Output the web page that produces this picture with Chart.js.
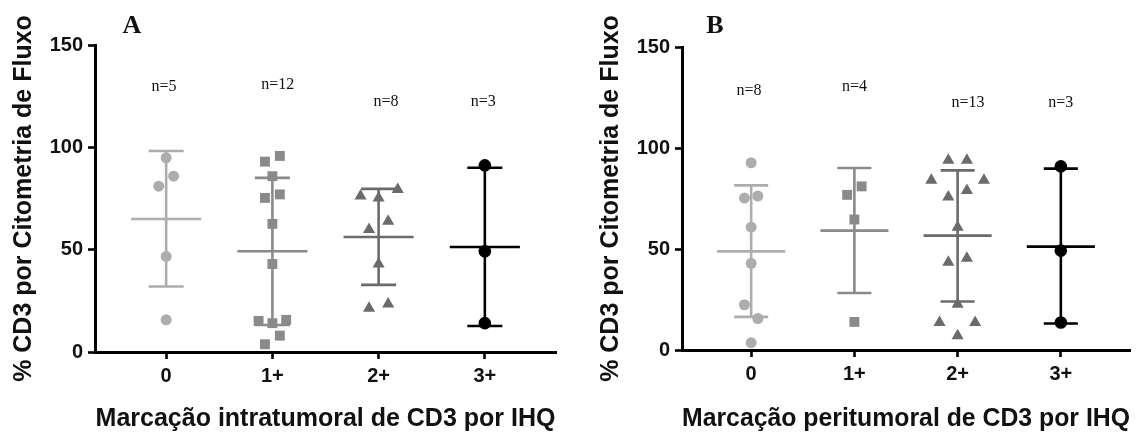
<!DOCTYPE html>
<html>
<head>
<meta charset="utf-8">
<script src="https://cdn.jsdelivr.net/npm/chart.js@4.4.1/dist/chart.umd.min.js"></script>
<style>
  body { margin: 0; background: #fff; }
  #wrap { position: relative; width: 1137px; height: 434px; background: #fff; }
  canvas { position: absolute; top: 0; }
</style>
</head>
<body>
<div id="wrap">
  <canvas id="chart-a" width="570" height="434" style="left:0"></canvas>
  <canvas id="chart-b" width="567" height="434" style="left:570px"></canvas>
</div>
<script>
/* CD3 por citometria vs marcação IHQ — two scatter panels with mean ± SD */

const categories = ['0', '1+', '2+', '3+'];
const yTicks = [0, 50, 100, 150];

// Panel A — intratumoral
const aVals0 = [94.9, 85.9, 81.0, 46.7, 15.7];
const aJit0  = [0, 0.07, -0.07, 0, 0];
const aVals1 = [93.0, 95.8, 85.9, 75.3, 77.0, 62.6, 43.0, 15.2, 14.1, 15.7, 8.0, 3.8];
const aJit1  = [-0.07, 0.07, 0, -0.07, 0.07, 0, 0, -0.13, 0, 0.13, 0.07, -0.07];
const aVals2 = [76.2, 75.3, 79.4, 59.8, 63.9, 43.0, 21.4, 23.4];
const aJit2  = [-0.17, 0, 0.18, -0.09, 0.09, 0, -0.09, 0.09];
const aVals3 = [91.2, 49.2, 14.1];
const aJit3  = [0, 0, 0];
const aMean  = [65.0, 49.2, 56.2, 51.3];
const aSdHi  = [98.2, 85.1, 79.7, 90.0];
const aSdLo  = [32.0, 13.2, 32.8, 12.7];
const aN     = ['n=5', 'n=12', 'n=8', 'n=3'];
const aNY    = [129.4, 130.4, 122.3, 122.3];
const aNDx   = [-0.02, 0.05, 0.07, -0.015];

// Panel B — peritumoral
const bVals0 = [92.7, 75.2, 76.2, 60.8, 42.9, 22.4, 15.6, 3.6];
const bJit0  = [0, -0.065, 0.065, 0, 0, -0.065, 0.065, 0];
const bVals1 = [76.8, 81.0, 64.6, 13.9];
const bJit1  = [-0.07, 0.07, 0, 0];
const bVals2 = [93.9, 93.9, 84.0, 84.0, 75.7, 79.0, 60.8, 43.4, 45.4, 22.7, 13.6, 13.6, 7.0];
const bJit2  = [-0.09, 0.09, -0.255, 0.255, -0.09, 0.09, 0, -0.09, 0.09, 0, -0.175, 0.17, 0];
const bVals3 = [90.9, 49.2, 13.6];
const bJit3  = [0, 0, 0];
const bMean  = [48.8, 59.1, 56.6, 51.2];
const bSdHi  = [81.5, 90.1, 88.9, 89.8];
const bSdLo  = [16.4, 28.2, 24.0, 13.1];
const bN     = ['n=8', 'n=4', 'n=13', 'n=3'];
const bNY    = [128.5, 130.2, 122.3, 122.3];
const bNDx   = [-0.02, 0, 0.1, 0];

const colors = ['#adadad', '#8a8a8a', '#6b6b6b', '#000000'];
const styles = ['circle', 'rect', 'triangle', 'circle'];
const radii  = [5.5, 7, 7, 6.3];
const CAP = 0.165, MEAN_W = 0.33;
const SANS = '"Liberation Sans", Arial, sans-serif';

// n=.. labels and panel letter, placed through the chart scales
const annotate = {
  id: 'annotate',
  afterDatasetsDraw(chart, args, opts) {
    const { ctx, scales: { x, y } } = chart;
    ctx.save();
    ctx.fillStyle = '#111';
    ctx.textAlign = 'center';
    ctx.textBaseline = 'middle';
    ctx.font = '16px "Liberation Serif", "Times New Roman", serif';
    opts.labels.forEach((t, i) => {
      ctx.fillText(t, x.getPixelForValue(i + opts.dx[i]), y.getPixelForValue(opts.ly[i]));
    });
    ctx.font = 'bold 26px "Liberation Serif", "Times New Roman", serif';
    ctx.textBaseline = 'alphabetic';
    ctx.fillText(opts.letter, opts.letterX, 33);
    ctx.restore();
  }
};

function pointSet(vals, jit, i) {
  return {
    data: vals.map((v, k) => ({ x: i + jit[k], y: v })),
    pointStyle: styles[i],
    pointRadius: radii[i],
    backgroundColor: colors[i],
    borderColor: colors[i],
    borderWidth: 0,
    showLine: false,
    order: 1
  };
}

function errorSets(mean, lo, hi) {
  const sets = [];
  mean.forEach((m, i) => {
    const seg = pts => ({
      data: pts, showLine: true, borderColor: colors[i], borderWidth: 2.6,
      pointRadius: 0, fill: false, order: 2
    });
    sets.push(seg([{ x: i, y: lo[i] }, { x: i, y: hi[i] }]));
    sets.push(seg([{ x: i - CAP, y: hi[i] }, { x: i + CAP, y: hi[i] }]));
    sets.push(seg([{ x: i - CAP, y: lo[i] }, { x: i + CAP, y: lo[i] }]));
    sets.push(seg([{ x: i - MEAN_W, y: m }, { x: i + MEAN_W, y: m }]));
  });
  return sets;
}

function makePanel(id, groups, mean, lo, hi, labels, ly, dx, cfg) {
  const datasets = groups.map((g, i) => pointSet(g[0], g[1], i)).concat(errorSets(mean, lo, hi));
  return new Chart(document.getElementById(id), {
    type: 'scatter',
    data: { datasets },
    plugins: [annotate],
    options: {
      responsive: false,
      animation: false,
      devicePixelRatio: 1,
      layout: { padding: { top: cfg.top, right: cfg.right, left: 0, bottom: 0 } },
      plugins: {
        legend: { display: false },
        tooltip: { enabled: false },
        annotate: { labels, ly, dx, letter: cfg.letter, letterX: cfg.letterX }
      },
      scales: {
        x: {
          type: 'linear', min: -0.67, max: 3.67,
          afterBuildTicks: s => { s.ticks = categories.map((c, i) => ({ value: i })); },
          afterFit: s => { s.height = cfg.xh; },
          ticks: { callback: v => categories[v], color: '#111', padding: 5,
                   font: { family: SANS, size: 20, weight: 'bold' } },
          grid: { drawOnChartArea: false, tickLength: 7, tickWidth: 2.6, tickColor: '#000' },
          border: { color: '#000', width: 3 },
          title: { display: true, text: cfg.xTitle, color: '#111', padding: { top: 0, bottom: 0 },
                   font: { family: SANS, size: 25, weight: 'bold' } }
        },
        y: {
          min: 0, max: 150,
          afterBuildTicks: s => { s.ticks = yTicks.map(v => ({ value: v })); },
          afterFit: s => { s.width = cfg.yw; },
          ticks: { color: '#111', padding: 5, font: { family: SANS, size: 20, weight: 'bold' } },
          grid: { drawOnChartArea: false, tickLength: 7, tickWidth: 2.6, tickColor: '#000' },
          border: { color: '#000', width: 3 },
          title: { display: true, text: '% CD3 por Citometria de Fluxo', color: '#111',
                   padding: { top: cfg.titlePad, bottom: 0 },
                   font: { family: SANS, size: 25, weight: 'bold' } }
        }
      }
    }
  });
}

makePanel('chart-a',
  [[aVals0, aJit0], [aVals1, aJit1], [aVals2, aJit2], [aVals3, aJit3]],
  aMean, aSdLo, aSdHi, aN, aNY, aNDx,
  { top: 45, right: 14, xh: 82, yw: 95, titlePad: 9, letter: 'A', letterX: 132,
    xTitle: 'Marcação intratumoral de CD3 por IHQ' });

makePanel('chart-b',
  [[bVals0, bJit0], [bVals1, bJit1], [bVals2, bJit2], [bVals3, bJit3]],
  bMean, bSdLo, bSdHi, bN, bNY, bNDx,
  { top: 47, right: 0, xh: 84, yw: 112, titlePad: 26, letter: 'B', letterX: 145,
    xTitle: 'Marcação peritumoral de CD3 por IHQ' });
</script>
</body>
</html>
